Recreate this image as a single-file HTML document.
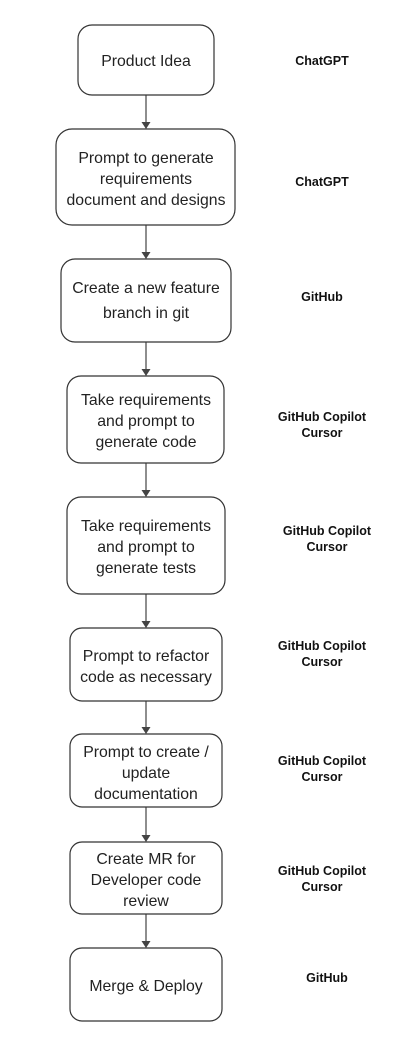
<!DOCTYPE html>
<html><head><meta charset="utf-8"><style>
html,body{margin:0;padding:0;background:#fff;}
svg{display:block;}
.n{font-family:"Liberation Sans",sans-serif;font-size:15.8px;fill:#222;text-anchor:middle;}
.l{font-family:"Liberation Sans",sans-serif;font-size:12.5px;font-weight:bold;fill:#111;text-anchor:middle;}
rect{fill:#fff;stroke:#333;stroke-width:1.2;}
line{stroke:#444;stroke-width:1.2;}
polygon{fill:#444;}
</style></head><body>
<svg width="417" height="1046" viewBox="0 0 417 1046">
<g>
<line x1="146" y1="95" x2="146" y2="124"/><polygon points="141.5,122 150.5,122 146,129"/>
<line x1="146" y1="225" x2="146" y2="254"/><polygon points="141.5,252 150.5,252 146,259"/>
<line x1="146" y1="342" x2="146" y2="371"/><polygon points="141.5,369 150.5,369 146,376"/>
<line x1="146" y1="463" x2="146" y2="492"/><polygon points="141.5,490 150.5,490 146,497"/>
<line x1="146" y1="594" x2="146" y2="623"/><polygon points="141.5,621 150.5,621 146,628"/>
<line x1="146" y1="701" x2="146" y2="729"/><polygon points="141.5,727 150.5,727 146,734"/>
<line x1="146" y1="807" x2="146" y2="837"/><polygon points="141.5,835 150.5,835 146,842"/>
<line x1="146" y1="914" x2="146" y2="943"/><polygon points="141.5,941 150.5,941 146,948"/>
</g>
<rect x="78" y="25" width="136" height="70" rx="14"/>
<rect x="56" y="129" width="179" height="96" rx="16"/>
<rect x="61" y="259" width="170" height="83" rx="14"/>
<rect x="67" y="376" width="157" height="87" rx="14"/>
<rect x="67" y="497" width="158" height="97" rx="14"/>
<rect x="70" y="628" width="152" height="73" rx="12"/>
<rect x="70" y="734" width="152" height="73" rx="12"/>
<rect x="70" y="842" width="152" height="72" rx="12"/>
<rect x="70" y="948" width="152" height="73" rx="12"/>

<text class="n" x="146" y="66">Product Idea</text>
<text class="n" x="146" y="163">Prompt to generate</text>
<text class="n" x="146" y="184">requirements</text>
<text class="n" x="146" y="205">document and designs</text>
<text class="n" x="146" y="293">Create a new feature</text>
<text class="n" x="146" y="318">branch in git</text>
<text class="n" x="146" y="405">Take requirements</text>
<text class="n" x="146" y="426">and prompt to</text>
<text class="n" x="146" y="447">generate code</text>
<text class="n" x="146" y="531">Take requirements</text>
<text class="n" x="146" y="552">and prompt to</text>
<text class="n" x="146" y="573">generate tests</text>
<text class="n" x="146" y="661">Prompt to refactor</text>
<text class="n" x="146" y="682">code as necessary</text>
<text class="n" x="146" y="757">Prompt to create /</text>
<text class="n" x="146" y="778">update</text>
<text class="n" x="146" y="799">documentation</text>
<text class="n" x="146" y="864">Create MR for</text>
<text class="n" x="146" y="885">Developer code</text>
<text class="n" x="146" y="906">review</text>
<text class="n" x="146" y="991">Merge &amp; Deploy</text>

<text class="l" x="322" y="65">ChatGPT</text>
<text class="l" x="322" y="186">ChatGPT</text>
<text class="l" x="322" y="301">GitHub</text>
<text class="l" x="322" y="421">GitHub Copilot</text>
<text class="l" x="322" y="437">Cursor</text>
<text class="l" x="327" y="535">GitHub Copilot</text>
<text class="l" x="327" y="551">Cursor</text>
<text class="l" x="322" y="650">GitHub Copilot</text>
<text class="l" x="322" y="666">Cursor</text>
<text class="l" x="322" y="765">GitHub Copilot</text>
<text class="l" x="322" y="781">Cursor</text>
<text class="l" x="322" y="875">GitHub Copilot</text>
<text class="l" x="322" y="891">Cursor</text>
<text class="l" x="327" y="982">GitHub</text>
</svg>
</body></html>
